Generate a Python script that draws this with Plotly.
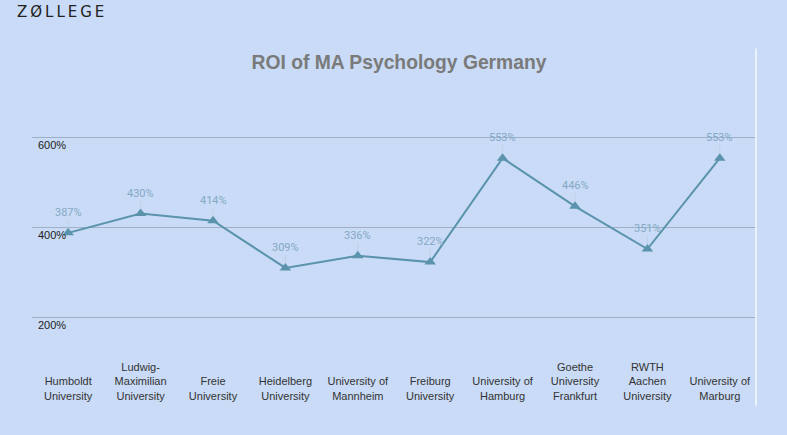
import plotly.graph_objects as go

universities = ["Humboldt<br>University", "Ludwig-<br>Maximilian<br>University", "Freie<br>University",
                "Heidelberg<br>University", "University of<br>Mannheim", "Freiburg<br>University",
                "University of<br>Hamburg", "Goethe<br>University<br>Frankfurt", "RWTH<br>Aachen<br>University",
                "University of<br>Marburg"]
roi = [387, 430, 414, 309, 336, 322, 553, 446, 351, 553]
y_ticks = [200, 400, 600]
y_tick_labels = ["200%", "400%", "600%"]

# bottom-align tick labels (pad two-line labels with a leading blank line)
tick_text = [("<br>" + u) if u.count("<br>") == 1 else u for u in universities]
xs = list(range(len(universities)))

BG = "#c9dbf6"
LINE = "#5a93ab"

fig = go.Figure()
fig.add_trace(go.Scatter(
    x=xs, y=roi, mode="lines+markers",
    line=dict(color=LINE, width=2),
    marker=dict(symbol="triangle-up", size=10, color=LINE),
    hoverinfo="skip", showlegend=False,
))

for x, v in zip(xs, roi):
    fig.add_annotation(
        x=x, y=v, text=f"{v}%", showarrow=True, arrowhead=0, arrowwidth=1,
        arrowcolor="rgba(190,210,230,0.9)", ax=0, ay=-13, standoff=5,
        font=dict(family="Roboto, Arial", size=11, color="#84a9c4"),
        yanchor="bottom", borderpad=0,
    )

fig.add_shape(type="line", xref="paper", yref="paper", x0=1.0, x1=1.0, y0=-0.18, y1=1.29,
              line=dict(color="rgba(255,255,255,0.85)", width=1.5))

fig.add_annotation(
    xref="paper", yref="paper", x=-0.0235, y=1.44, xanchor="left", yanchor="middle",
    text="Z&#8201;Ø&#8201;L&#8201;L&#8201;E&#8201;G&#8201;E", showarrow=False,
    font=dict(family="DejaVu Sans", size=15, color="#222222"),
)

fig.update_layout(
    width=787, height=435,
    paper_bgcolor=BG, plot_bgcolor=BG,
    margin=dict(l=32, r=31, t=119, b=73),
    title=dict(text="<b>ROI of MA Psychology Germany</b>", x=399/787, xref="container",
               y=1 - 62/435, yref="container", xanchor="center", yanchor="middle",
               font=dict(family="Liberation Sans, Arial", size=19.3, color="#7a7a7a")),
    xaxis=dict(tickmode="array", tickvals=xs, ticktext=tick_text, range=[-0.5, 9.5],
               showgrid=False, zeroline=False, showline=False, ticks="",
               ticklabelstandoff=-3,
               tickfont=dict(family="Liberation Sans, Arial", size=11, color="#333333")),
    yaxis=dict(tickmode="array", tickvals=y_ticks, ticktext=y_tick_labels, range=[100, 640],
               showgrid=True, gridcolor="#9fb0c6", gridwidth=1, zeroline=False, showline=False,
               ticklabelposition="inside bottom", ticks="", ticklabelstandoff=3,
               tickfont=dict(family="Liberation Sans, Arial", size=11, color="#222222")),
)

fig.write_html("out.html")
